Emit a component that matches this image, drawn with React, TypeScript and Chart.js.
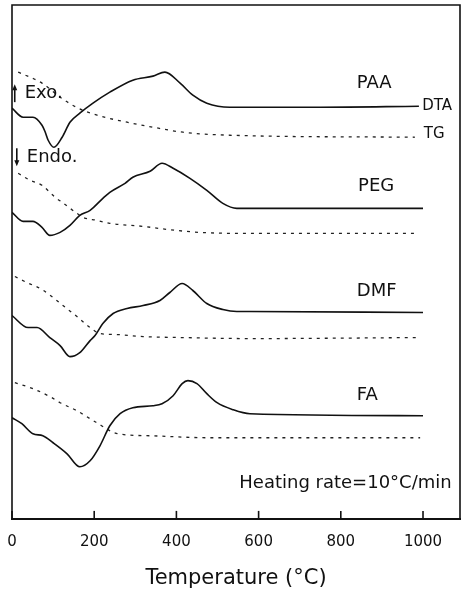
import React, { useEffect, useRef } from "react";
import { Chart, registerables } from "chart.js";

Chart.register(...registerables);

// Temperature (°C) and signal (arbitrary units, stacked offsets)
const paaDtaT = [0, 27, 51, 73, 80, 88, 102, 122, 141, 165, 197, 238, 294, 343, 372, 409, 440, 474, 530, 750, 990];
const paaDtaY = [410, 401, 401, 393, 387, 378, 371, 381, 396, 405, 415, 426, 438, 442, 446, 435, 423, 415, 411, 411, 412];
const paaTgT = [15, 73, 117, 161, 207, 280, 343, 416, 530, 980];
const paaTgY = [446, 435, 421, 410, 403, 396, 391, 386, 383, 381];

const pegDtaT = [0, 27, 51, 73, 92, 117, 141, 165, 190, 221, 238, 275, 294, 336, 365, 392, 433, 474, 513, 547, 579, 1000];
const pegDtaY = [306, 297, 297, 291, 283, 286, 293, 303, 308, 320, 326, 335, 341, 347, 355, 350, 340, 328, 315, 310, 310, 310];
const pegTgT = [15, 44, 73, 105, 122, 158, 173, 207, 238, 319, 377, 457, 579, 980];
const pegTgY = [345, 338, 333, 321, 316, 305, 301, 298, 295, 292, 289, 286, 285, 285];

const dmfDtaT = [0, 39, 61, 92, 117, 141, 165, 190, 202, 221, 246, 280, 319, 360, 384, 414, 440, 474, 513, 547, 579, 1000];
const dmfDtaY = [203, 191, 191, 181, 173, 162, 166, 178, 183, 195, 205, 210, 213, 218, 226, 235, 228, 215, 209, 207, 207, 206];
const dmfTgT = [7, 36, 73, 109, 124, 158, 190, 214, 255, 319, 416, 579, 985];
const dmfTgY = [242, 236, 229, 218, 213, 202, 191, 185, 184, 182, 181, 180, 181];

const faDtaT = [0, 24, 51, 75, 100, 134, 165, 190, 214, 238, 263, 294, 343, 365, 392, 414, 428, 450, 474, 499, 538, 579, 1000];
const faDtaY = [101, 95, 85, 83, 76, 65, 52, 58, 73, 93, 105, 111, 113, 115, 123, 135, 138, 135, 125, 116, 109, 105, 103];
const faTgT = [7, 51, 97, 117, 158, 202, 258, 336, 482, 993];
const faTgY = [136, 130, 121, 116, 108, 97, 85, 83, 81, 81];

const tickValues = [0, 200, 400, 600, 800, 1000];

const sampleNames = ["PAA", "PEG", "DMF", "FA"];
const sampleLabelT = [839, 842, 839, 839];
const sampleLabelY = [435, 332, 227, 123];

const traceNames = ["DTA", "TG"];
const traceLabelT = [998, 1002];
const traceLabelY = [412, 384];

const noteText = "Heating rate=10°C/min";
const noteT = [553];
const noteY = [36];

const arrowNames = ["Exo.", "Endo."];
const arrowTextT = [31, 36];
const arrowTextY = [425, 361];
const arrowDir = [1, -1];

const FONT = "'DejaVu Sans', sans-serif";

function pts(t: number[], y: number[]) {
  return t.map((x, i) => ({ x, y: y[i] }));
}

const overlay = {
  id: "overlay",
  afterDraw(chart: any) {
    const { ctx, chartArea } = chart;
    const xs = chart.scales.x;
    const ys = chart.scales.y;
    ctx.save();
    ctx.strokeStyle = "#111";
    ctx.lineWidth = 1.6;
    ctx.beginPath();
    ctx.moveTo(chartArea.left, chartArea.bottom);
    ctx.lineTo(chartArea.left, chartArea.top);
    ctx.lineTo(chartArea.right, chartArea.top);
    ctx.lineTo(chartArea.right, chartArea.bottom);
    ctx.stroke();
    tickValues.forEach((v) => {
      const px = xs.getPixelForValue(v);
      ctx.beginPath();
      ctx.moveTo(px, chartArea.bottom);
      ctx.lineTo(px, chartArea.bottom - 8);
      ctx.stroke();
    });
    ctx.fillStyle = "#111";
    ctx.textBaseline = "middle";
    ctx.textAlign = "left";
    ctx.font = `18px ${FONT}`;
    sampleNames.forEach((n, i) => {
      ctx.fillText(n, xs.getPixelForValue(sampleLabelT[i]), ys.getPixelForValue(sampleLabelY[i]));
    });
    ctx.font = `15px ${FONT}`;
    traceNames.forEach((n, i) => {
      ctx.fillText(n, xs.getPixelForValue(traceLabelT[i]), ys.getPixelForValue(traceLabelY[i]));
    });
    ctx.font = `18px ${FONT}`;
    ctx.fillText(noteText, xs.getPixelForValue(noteT[0]), ys.getPixelForValue(noteY[0]));
    arrowNames.forEach((n, i) => {
      const tx = xs.getPixelForValue(arrowTextT[i]);
      const ty = ys.getPixelForValue(arrowTextY[i]);
      ctx.fillText(n, tx, ty);
      const ax = tx - 10;
      const d = arrowDir[i];
      const tip = ty - d * 9;
      const tail = ty + d * 9;
      ctx.lineWidth = 1.6;
      ctx.beginPath();
      ctx.moveTo(ax, tail);
      ctx.lineTo(ax, tip + d * 4);
      ctx.stroke();
      ctx.beginPath();
      ctx.moveTo(ax, tip);
      ctx.lineTo(ax - 2.5, tip + d * 6);
      ctx.lineTo(ax + 2.5, tip + d * 6);
      ctx.closePath();
      ctx.fill();
    });
    ctx.restore();
  },
};

export default function App() {
  const ref = useRef<HTMLCanvasElement>(null);
  useEffect(() => {
    document.body.style.margin = "0";
    const dta = { borderColor: "#111", borderWidth: 1.6, pointRadius: 0, tension: 0.4, cubicInterpolationMode: "monotone" as const, fill: false };
    const tg = { borderColor: "#222", borderWidth: 1.3, pointRadius: 0, tension: 0.4, cubicInterpolationMode: "monotone" as const, borderDash: [3, 5], fill: false };
    const chart = new Chart(ref.current!, {
      type: "line",
      data: {
        datasets: [
          { label: "PAA DTA", data: pts(paaDtaT, paaDtaY), ...dta },
          { label: "PAA TG", data: pts(paaTgT, paaTgY), ...tg },
          { label: "PEG DTA", data: pts(pegDtaT, pegDtaY), ...dta },
          { label: "PEG TG", data: pts(pegTgT, pegTgY), ...tg },
          { label: "DMF DTA", data: pts(dmfDtaT, dmfDtaY), ...dta },
          { label: "DMF TG", data: pts(dmfTgT, dmfTgY), ...tg },
          { label: "FA DTA", data: pts(faDtaT, faDtaY), ...dta },
          { label: "FA TG", data: pts(faTgT, faTgY), ...tg },
        ],
      },
      options: {
        animation: false,
        responsive: false,
        maintainAspectRatio: false,
        layout: { padding: { left: 12, right: 1, top: 5, bottom: 0 } },
        plugins: { legend: { display: false }, tooltip: { enabled: false } },
        scales: {
          x: {
            type: "linear",
            min: 0,
            max: 1090,
            afterBuildTicks: (s: any) => {
              s.ticks = tickValues.map((v) => ({ value: v }));
            },
            afterFit: (s: any) => {
              s.paddingLeft = 0;
              s.paddingRight = 0;
            },
            grid: { display: false, drawTicks: false },
            border: { display: true, color: "#111", width: 2 },
            ticks: {
              color: "#111",
              padding: 14,
              font: { family: FONT, size: 15 },
              maxRotation: 0,
              callback: (v: any) => String(v),
            },
            title: {
              display: true,
              text: "Temperature (°C)",
              color: "#111",
              font: { family: FONT, size: 21, lineHeight: 1.1 },
              padding: { top: 2, bottom: 0 },
            },
          },
          y: { type: "linear", display: false, min: 0, max: 513 },
        },
      },
      plugins: [overlay],
    });
    return () => chart.destroy();
  }, []);
  return <canvas ref={ref} width={461} height={590} style={{ display: "block" }} />;
}
